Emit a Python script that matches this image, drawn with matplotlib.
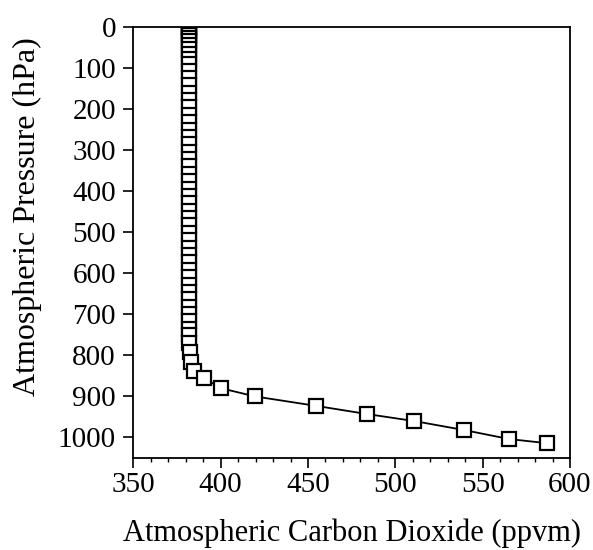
import matplotlib
matplotlib.use("Agg")
import matplotlib.pyplot as plt
from matplotlib.ticker import MultipleLocator

# CO2 profile
pressure_hpa = [1, 3, 6, 10, 15, 21, 28, 36, 45, 55, 66, 78, 92, 108, 125,
                143, 161, 179, 197, 215, 233, 251, 269, 287, 305, 323, 341,
                359, 377, 395, 413, 431, 449, 467, 485, 503, 521, 539, 557,
                575, 593, 611, 629, 647, 665, 683, 701, 719, 737, 752, 772,
                793, 817, 841, 858, 882, 902, 925, 945, 962, 984, 1006, 1016]
co2_ppmv = [381.8] * 49 + [381.6, 381.7, 382.2, 383.0, 384.7, 390.6, 400.2,
                           419.6, 454.6, 483.8, 510.7, 539.3, 565.2, 586.6]

x_ticks = [350, 400, 450, 500, 550, 600]
y_ticks = [0, 100, 200, 300, 400, 500, 600, 700, 800, 900, 1000]

plt.rcParams["font.family"] = ["Liberation Serif", "DejaVu Serif"]

fig = plt.figure(figsize=(5.93, 5.5), dpi=100)
ax = fig.add_axes([0.2248, 0.1667, 0.7364, 0.7848])

ax.plot(co2_ppmv, pressure_hpa, color="black", linewidth=1.3,
        marker="s", markersize=9.5, markerfacecolor="white",
        markeredgecolor="black", markeredgewidth=1.6)

ax.set_xlim(350, 600)
ax.set_ylim(1053, 0)
ax.set_xticks(x_ticks)
ax.set_yticks(y_ticks)
ax.xaxis.set_minor_locator(MultipleLocator(10))

ax.tick_params(axis="both", which="major", direction="out", length=7.5,
               width=1.2, labelsize=21, color="black")
ax.tick_params(axis="x", which="major", pad=2)
ax.tick_params(axis="y", which="major", pad=5)
ax.tick_params(axis="x", which="minor", direction="out", length=3, width=1.0)
ax.tick_params(top=False, right=False)

for s in ax.spines.values():
    s.set_linewidth(1.3)
    s.set_color("black")

ax.set_xlabel("Atmospheric Carbon Dioxide (ppvm)", fontsize=22, labelpad=15)
ax.set_ylabel("Atmospheric Pressure (hPa)", fontsize=23)
ax.yaxis.set_label_coords(-0.21, 0.559)

fig.savefig("out.png", dpi=100)
